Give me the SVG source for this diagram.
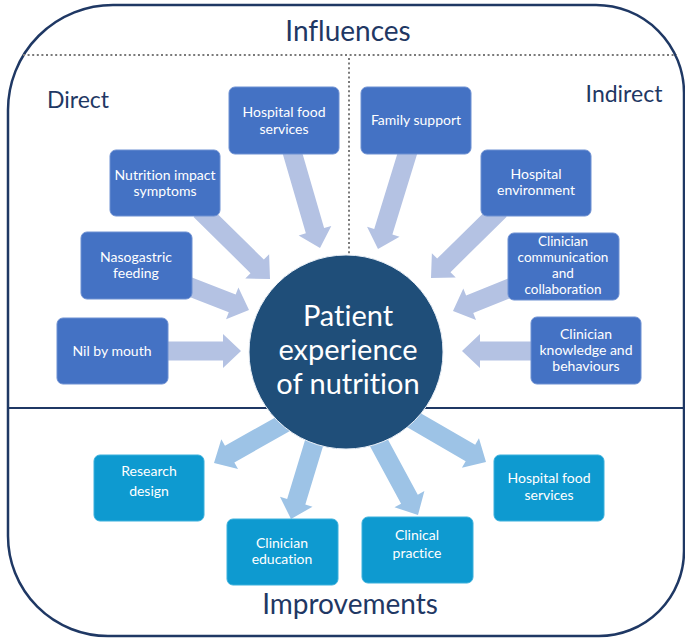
<svg xmlns="http://www.w3.org/2000/svg" width="685" height="640" viewBox="0 0 685 640">
  <style>
    text { font-variant-ligatures: none; font-feature-settings: "liga" 0, "clig" 0; }
    .frame { fill: none; stroke: #1f3864; stroke-width: 2.5; }
    .dots { fill: none; stroke: #7a7a7a; stroke-width: 2; stroke-dasharray: 2 2.6; }
    .divider { stroke: #1f3864; stroke-width: 2; }
    .heading { font-family: Lato, "Liberation Sans", sans-serif; fill: #1f3864; text-anchor: middle; }
    .big { font-size: 28px; }
    .side { font-size: 23px; }
    .inf rect { fill: #4472c4; stroke: #6d90d2; stroke-width: 1; }
    .imp rect { fill: #0e9ad0; stroke: #3bb0dc; stroke-width: 1; }
    .node text { font-family: Lato, "Liberation Sans", sans-serif; font-size: 14px; fill: #ffffff; text-anchor: middle; }
    .node.tight text { font-size: 13.5px; }
    .arrow-in { fill: #b4c2e3; }
    .arrow-out { fill: #9dc3e6; }
    .hub circle { fill: #1f4e79; stroke: #e8eef6; stroke-width: 1; }
    .hub text { font-family: Lato, "Liberation Sans", sans-serif; font-size: 29px; fill: #ffffff; text-anchor: middle; }
  </style>

  <!-- outer frame -->
  <path class="frame" d="M113,5 H596 A88,88 0 0 1 684,93 V551 A85,85 0 0 1 599,636 H108 A100,100 0 0 1 8,536 V110 A105,105 0 0 1 113,5 Z"/>

  <!-- section dividers -->
  <line class="dots" x1="23" y1="55" x2="677" y2="55"/>
  <line class="dots" x1="349" y1="58" x2="349" y2="262"/>
  <line class="divider" x1="8" y1="408" x2="684" y2="408"/>

  <!-- headings -->
  <text class="heading big" x="348" y="41">Influences</text>
  <text class="heading side" x="78" y="108">Direct</text>
  <text class="heading side" x="624" y="102">Indirect</text>
  <text class="heading big" x="350" y="614">Improvements</text>

  <!-- connectors: block arrows, each drawn with its tip at the local origin pointing along +x -->
  <g id="connectors">
    <g class="arrow-in">
      <path d="M160,341.5 H223 V334 L241,351 L223,368 V360.5 H160 Z"/>
      <path transform="translate(249,310) rotate(21.3)" d="M-69,-9.5 H-18 V-17 L0,0 L-18,17 V9.5 H-69 Z"/>
      <path transform="translate(270,279) rotate(44.6)" d="M-98,-9.5 H-18 V-17 L0,0 L-18,17 V9.5 H-98 Z"/>
      <path transform="translate(320,248) rotate(73.8)" d="M-107,-9.5 H-18 V-17 L0,0 L-18,17 V9.5 H-107 Z"/>
      <path transform="translate(378,249) rotate(107.1)" d="M-109,-9.5 H-18 V-17 L0,0 L-18,17 V9.5 H-109 Z"/>
      <path transform="translate(431,278) rotate(135.4)" d="M-97,-9.5 H-18 V-17 L0,0 L-18,17 V9.5 H-97 Z"/>
      <path transform="translate(453,311) rotate(158)" d="M-67,-9.5 H-18 V-17 L0,0 L-18,17 V9.5 H-67 Z"/>
      <path transform="translate(462,351) rotate(180)" d="M-78,-9.5 H-18 V-17 L0,0 L-18,17 V9.5 H-78 Z"/>
    </g>
    <g class="arrow-out">
      <path transform="translate(214,463) rotate(150.5)" d="M-87,-9.5 H-18 V-17 L0,0 L-18,17 V9.5 H-87 Z"/>
      <path transform="translate(291,519) rotate(106.9)" d="M-93,-9.5 H-18 V-17 L0,0 L-18,17 V9.5 H-93 Z"/>
      <path transform="translate(418,515) rotate(61.6)" d="M-97,-9.5 H-18 V-17 L0,0 L-18,17 V9.5 H-97 Z"/>
      <path transform="translate(486,462) rotate(30.1)" d="M-94,-9.5 H-18 V-17 L0,0 L-18,17 V9.5 H-94 Z"/>
    </g>
  </g>

  <!-- central node -->
  <g id="patient-experience" class="hub">
    <circle cx="346" cy="352" r="97"/>
    <text x="348" y="326">Patient</text>
    <text x="348" y="360">experience</text>
    <text x="348" y="394">of nutrition</text>
  </g>

  <!-- direct influences -->
  <g id="direct-food-services" class="node inf">
    <rect x="229" y="87" width="110" height="67" rx="6"/>
    <text x="284" y="117">Hospital food</text>
    <text x="284" y="134">services</text>
  </g>
  <g id="nutrition-impact" class="node inf">
    <rect x="110" y="150" width="110" height="66" rx="6"/>
    <text x="165" y="180">Nutrition impact</text>
    <text x="165" y="196">symptoms</text>
  </g>
  <g id="nasogastric" class="node inf">
    <rect x="81" y="232" width="111" height="67" rx="6"/>
    <text x="136" y="262">Nasogastric</text>
    <text x="136" y="278">feeding</text>
  </g>
  <g id="nil-by-mouth" class="node inf">
    <rect x="57" y="318" width="111" height="66" rx="6"/>
    <text x="112" y="356">Nil by mouth</text>
  </g>

  <!-- indirect influences -->
  <g id="family-support" class="node inf">
    <rect x="361" y="87" width="110" height="67" rx="6"/>
    <text x="416" y="125">Family support</text>
  </g>
  <g id="hospital-environment" class="node inf">
    <rect x="481" y="150" width="110" height="66" rx="6"/>
    <text x="536" y="179">Hospital</text>
    <text x="536" y="195">environment</text>
  </g>
  <g id="clinician-communication" class="node inf tight">
    <rect x="508" y="233" width="111" height="67" rx="6"/>
    <text x="563" y="246">Clinician</text>
    <text x="563" y="262">communication</text>
    <text x="563" y="278">and</text>
    <text x="563" y="294">collaboration</text>
  </g>
  <g id="clinician-knowledge" class="node inf">
    <rect x="531" y="317" width="110" height="67" rx="6"/>
    <text x="586" y="339">Clinician</text>
    <text x="586" y="355">knowledge and</text>
    <text x="586" y="371">behaviours</text>
  </g>

  <!-- improvements -->
  <g id="research-design" class="node imp">
    <rect x="94" y="455" width="110" height="66" rx="6"/>
    <text x="149" y="476">Research</text>
    <text x="149" y="496">design</text>
  </g>
  <g id="clinician-education" class="node imp">
    <rect x="227" y="519" width="111" height="66" rx="6"/>
    <text x="282" y="548">Clinician</text>
    <text x="282" y="564">education</text>
  </g>
  <g id="clinical-practice" class="node imp">
    <rect x="362" y="517" width="111" height="66" rx="6"/>
    <text x="417" y="540">Clinical</text>
    <text x="417" y="558">practice</text>
  </g>
  <g id="improve-food-services" class="node imp">
    <rect x="494" y="455" width="110" height="66" rx="6"/>
    <text x="549" y="483">Hospital food</text>
    <text x="549" y="500">services</text>
  </g>
</svg>
